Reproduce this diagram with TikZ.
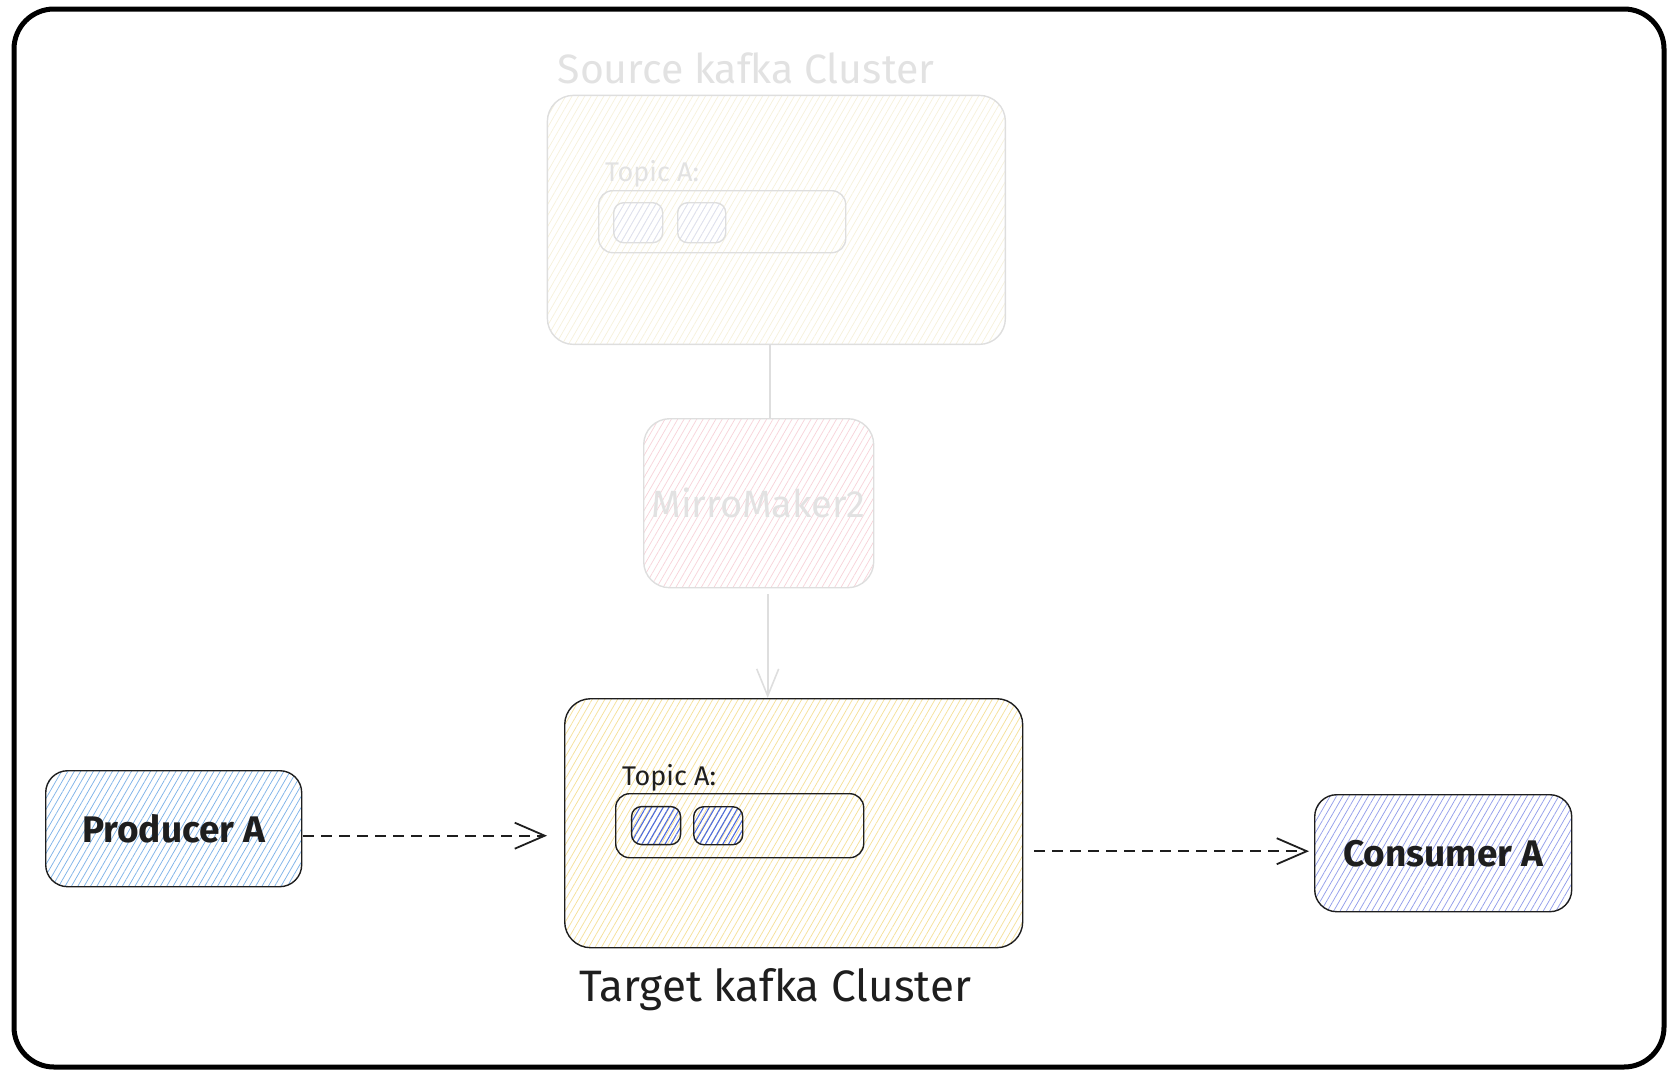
\documentclass[tikz,border=0pt]{standalone}
\usepackage{fontspec}
\setmainfont{Fira Sans}
\usetikzlibrary{arrows.meta,patterns.meta,calc}

\definecolor{ink}{HTML}{1E1E1E}
\definecolor{ghost}{HTML}{DEDEDE}
\definecolor{ghosttext}{HTML}{E2E2E2}
\definecolor{prodblue}{HTML}{7FB3E8}
\definecolor{consblue}{HTML}{939EEA}
\definecolor{partblue}{HTML}{4C6BE0}
\definecolor{clusteryellow}{HTML}{F5E09A}
\definecolor{ghostyellow}{HTML}{F6F1DC}
\definecolor{ghostpink}{HTML}{F7D4DA}
\definecolor{ghostblue}{HTML}{DCE0F4}

\begin{document}
\begin{tikzpicture}[x=1pt,y=-1pt,
    box/.style={draw=ink,line width=1.4pt,rounded corners=26pt,inner sep=0pt,anchor=north west},
    ghostbox/.style={box,draw=ghost},
    hatch/.style={pattern={Lines[angle=60,distance=5.5pt,line width=0.75pt]},pattern color=#1},
    flow/.style={draw=ink,line width=1.8pt,dash pattern=on 11pt off 7pt,-{Straight Barb[length=30pt,width=26pt,line width=1.8pt]}},
    ghostflow/.style={draw=ghost,line width=1.6pt,-{Straight Barb[length=27pt,width=22pt,line width=1.6pt]}}
  ]
  \useasboundingbox (0,0) rectangle (1678,1076);
  % frame
  \draw[line width=5pt,rounded corners=40pt] (14,9) rectangle (1664,1067);

  % source cluster
  \node[ghostbox,hatch=ghostyellow,minimum width=458pt,minimum height=249pt] (src) at (547,95) {};
  \node[text=ghosttext,font=\fontsize{41}{44}\selectfont] (srclabel) at (746,68) {Source kafka Cluster};
  \node[text=ghosttext,anchor=west,inner sep=0pt,font=\fontsize{27}{30}\selectfont] (srctopic) at (605,174) {Topic A:};
  \node[ghostbox,rounded corners=14pt,minimum width=247pt,minimum height=62pt] (srcbar) at (598,190) {};
  \node[ghostbox,rounded corners=10pt,hatch=ghostblue,minimum width=49pt,minimum height=40pt] (srcpa) at (613,202) {};
  \node[ghostbox,rounded corners=10pt,hatch=ghostblue,minimum width=48pt,minimum height=40pt] (srcpb) at (677,202) {};

  % mirror maker
  \node[ghostbox,hatch=ghostpink,minimum width=230pt,minimum height=169pt] (mm) at (643,418) {};
  \node[text=ghosttext,font=\fontsize{38}{42}\selectfont] (mmlabel) at (mm.center) {MirroMaker2};

  % target cluster
  \node[box,hatch=clusteryellow,minimum width=458pt,minimum height=249pt] (tgt) at (564,698) {};
  \node[text=ink,anchor=west,inner sep=0pt,font=\fontsize{27}{30}\selectfont] (tgttopic) at (622,778) {Topic A:};
  \node[box,rounded corners=14pt,minimum width=248pt,minimum height=64pt] (tgtbar) at (615,793) {};
  \node[box,rounded corners=10pt,pattern={Lines[angle=60,distance=5pt,line width=1.1pt]},pattern color=partblue,minimum width=49pt,minimum height=38pt] (tgtpa) at (631,806) {};
  \node[box,rounded corners=10pt,pattern={Lines[angle=60,distance=5pt,line width=1.1pt]},pattern color=partblue,minimum width=49pt,minimum height=38pt] (tgtpb) at (693,806) {};
  \node[text=ink,font=\fontsize{44}{48}\selectfont] (tgtlabel) at (775,990) {Target kafka Cluster};

  % producer and consumer
  \node[box,rounded corners=22pt,hatch=prodblue,minimum width=256pt,minimum height=116pt,
    font=\fontsize{37}{40}\selectfont\bfseries,text=ink] (prod) at (45,770) {Producer A};
  \node[box,rounded corners=22pt,hatch=consblue,minimum width=257pt,minimum height=117pt,
    font=\fontsize{37}{40}\selectfont\bfseries,text=ink] (cons) at (1314,794) {Consumer A};

  % source to mirror maker to target
  \draw[ghost,line width=1.6pt] ($(src.south -| mm.north)+(11,0)$) -- ($(mm.north)+(11,0)$);
  \draw[ghostflow] ($(mm.south)+(9,6)$) -- ($(tgt.north -| mm.south)+(9,0)$);
  % producer to target, target to consumer
  \draw[flow] ($(prod.east)+(1,7)$) -- ($(prod.east -| tgt.west)+(-17,7)$);
  \draw[flow] ($(cons.west -| tgt.east)+(11,-2)$) -- ($(cons.west)+(-5,-2)$);
\end{tikzpicture}
\end{document}
